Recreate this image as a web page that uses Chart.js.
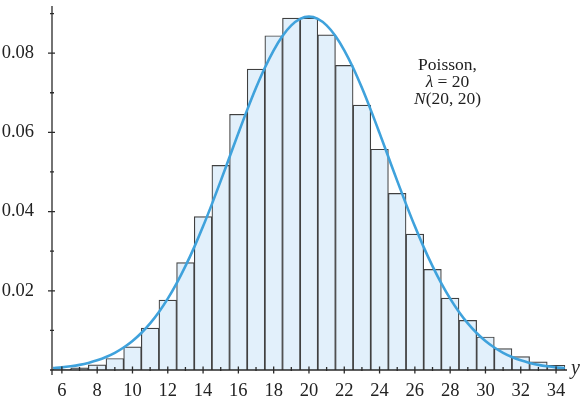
<!DOCTYPE html>
<html><head><meta charset="utf-8">
<script src="https://cdn.jsdelivr.net/npm/chart.js@4.4.1/dist/chart.umd.min.js"></script>
<style>html,body{margin:0;padding:0;background:#fff;overflow:hidden}</style>
</head><body>
<canvas id="c" width="581" height="396"></canvas>
<script>
// ---- data ----
const counts = [6,7,8,9,10,11,12,13,14,15,16,17,18,19,20,21,22,23,24,25,26,27,28,29,30,31,32,33,34];
const poissonProb = [0.00018,0.00052,0.00131,0.00291,0.00582,0.01058,0.01763,0.02712,0.03874,0.05165,
  0.06456,0.07595,0.08439,0.08884,0.08884,0.08461,0.07691,0.06688,0.05574,0.04459,
  0.03430,0.02541,0.01815,0.01252,0.00834,0.00538,0.00336,0.00204,0.00120];
const curveX = [5.5,6,6.5,7,7.5,8,8.5,9,9.5,10,10.5,11,11.5,12,12.5,13,13.5,14,14.5,15,15.5,16,16.5,17,17.5,18,18.5,19,19.5,20,
  20.5,21,21.5,22,22.5,23,23.5,24,24.5,25,25.5,26,26.5,27,27.5,28,28.5,29,29.5,30,30.5,31,31.5,32,32.5,33,33.5,34,34.5];
const curveY = [0.00047,0.00066,0.00094,0.00130,0.00179,0.00244,0.00327,0.00433,0.00567,0.00732,0.00934,0.01177,0.01465,0.01801,0.02186,
  0.02621,0.03102,0.03627,0.04188,0.04775,0.05377,0.05980,0.06568,0.07124,0.07631,0.08072,0.08433,0.08701,0.08865,0.08921,
  0.08865,0.08701,0.08433,0.08072,0.07631,0.07124,0.06568,0.05980,0.05377,0.04775,0.04188,0.03627,0.03102,0.02621,0.02186,
  0.01801,0.01465,0.01177,0.00934,0.00732,0.00567,0.00433,0.00327,0.00244,0.00179,0.00130,0.00094,0.00066,0.00047];
const xTicks = [6,7,8,9,10,11,12,13,14,15,16,17,18,19,20,21,22,23,24,25,26,27,28,29,30,31,32,33,34];
const xLabelTicks = [6,8,10,12,14,16,18,20,22,24,26,28,30,32,34];
const yTicks = [0.01,0.02,0.03,0.04,0.05,0.06,0.07,0.08,0.09];
const yLabelTicks = [0.02,0.04,0.06,0.08];
const axisTitle = 'y';
const noteLines = [
  [{t:'Poisson,', i:false}],
  [{t:'λ', i:true}, {t:' = 20', i:false}],
  [{t:'N', i:true}, {t:'(20, 20)', i:false}]
];

const FAMILY = '"Liberation Serif", "Times New Roman", serif';
const INK = '#2a2a2a';
const isIn = (arr, v) => arr.some(a => Math.abs(a - v) < 1e-9);

const axesPlugin = {
  id: 'axesCross',
  afterDatasetsDraw(chart) {
    const {ctx, chartArea: a, scales: {x, y}} = chart;
    ctx.save();
    ctx.strokeStyle = INK;
    ctx.lineWidth = 1.3;
    ctx.beginPath();
    ctx.moveTo(a.left - 2, a.bottom); ctx.lineTo(a.right, a.bottom);
    ctx.moveTo(a.left, a.top); ctx.lineTo(a.left, a.bottom + 5);
    xTicks.forEach(v => {
      const px = x.getPixelForValue(v);
      const major = isIn(xLabelTicks, v);
      ctx.moveTo(px, a.bottom - (major ? 3.5 : 3));
      ctx.lineTo(px, a.bottom + (major ? 3.5 : 1));
    });
    yTicks.forEach(v => {
      const py = y.getPixelForValue(v);
      const major = isIn(yLabelTicks, v);
      ctx.moveTo(a.left - (major ? 4 : 2), py);
      ctx.lineTo(a.left + (major ? 3 : 2), py);
    });
    ctx.stroke();
    ctx.fillStyle = INK;
    ctx.font = 'italic 20px ' + FAMILY;
    ctx.textAlign = 'left';
    ctx.textBaseline = 'alphabetic';
    ctx.fillText(axisTitle, a.right + 4, a.bottom + 4);
    ctx.restore();
  }
};

const notePlugin = {
  id: 'note',
  afterDatasetsDraw(chart) {
    const {ctx, scales: {x, y}} = chart;
    const cx = x.getPixelForValue(27.85);
    let base = y.getPixelForValue(0.0757);
    ctx.save();
    ctx.fillStyle = '#1e1e1e';
    ctx.textBaseline = 'alphabetic';
    ctx.textAlign = 'left';
    noteLines.forEach(line => {
      let w = 0;
      line.forEach(s => { ctx.font = (s.i ? 'italic ' : '') + '17.5px ' + FAMILY; w += ctx.measureText(s.t).width; });
      let px = cx - w / 2;
      line.forEach(s => {
        ctx.font = (s.i ? 'italic ' : '') + '17.5px ' + FAMILY;
        ctx.fillText(s.t, px, base);
        px += ctx.measureText(s.t).width;
      });
      base += 16.8;
    });
    ctx.restore();
  }
};

new Chart(document.getElementById('c').getContext('2d'), {
  type: 'bar',
  data: {
    datasets: [
      {
        type: 'line',
        data: curveX.map((v, i) => ({x: v, y: curveY[i]})),
        borderColor: '#3fa2dc',
        borderWidth: 2.6,
        pointRadius: 0,
        tension: 0.4,
        cubicInterpolationMode: 'monotone',
        fill: false,
        order: 0
      },
      {
        type: 'bar',
        data: counts.map((v, i) => ({x: v, y: poissonProb[i]})),
        backgroundColor: '#e2f0fb',
        borderColor: '#404040',
        borderWidth: 1.2,
        borderSkipped: 'bottom',
        barPercentage: 1,
        categoryPercentage: 1,
        order: 1
      }
    ]
  },
  options: {
    responsive: false,
    devicePixelRatio: 1,
    animation: false,
    layout: {padding: {left: 0, right: 14, top: 6, bottom: 0}},
    plugins: {legend: {display: false}, tooltip: {enabled: false}},
    scales: {
      x: {
        type: 'linear', min: 5.44, max: 34.62, offset: false,
        grid: {display: false}, border: {display: false},
        afterBuildTicks: s => { s.ticks = xTicks.map(v => ({value: v})); },
        ticks: {
          autoSkip: false, maxRotation: 0, minRotation: 0, padding: 2, color: '#222',
          font: {family: FAMILY, size: 18.5},
          callback: v => isIn(xLabelTicks, v) ? String(v) : ''
        },
        afterFit: s => { s.height = 26; s.paddingLeft = 0; s.paddingRight = 0; }
      },
      y: {
        type: 'linear', min: 0, max: 0.0919,
        grid: {display: false}, border: {display: false},
        afterBuildTicks: s => { s.ticks = yTicks.map(v => ({value: v})); },
        ticks: {
          autoSkip: false, padding: 10, color: '#222',
          font: {family: FAMILY, size: 18.5},
          callback: v => isIn(yLabelTicks, v) ? v.toFixed(2) : ''
        },
        afterFit: s => { s.width = 52; s.paddingTop = 0; s.paddingBottom = 0; }
      }
    }
  },
  plugins: [axesPlugin, notePlugin]
});
</script>
</body></html>
